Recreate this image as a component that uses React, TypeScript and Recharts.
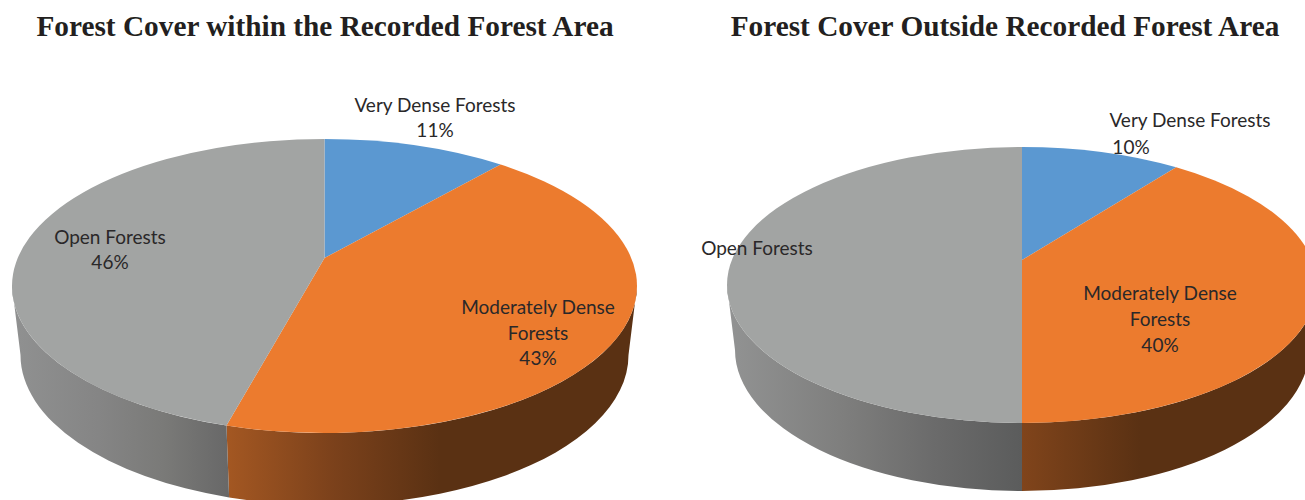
import { PieChart, Pie, Cell } from "recharts";

const categories = ["Very Dense Forests", "Moderately Dense Forests", "Open Forests"];
const withinValues = [11.4, 42.8, 45.8];
const outsideValues = [10.4, 39.6, 50];
const colors = ["#5b98d1", "#ec7b2e", "#a2a4a3"];

const withinTitle = "Forest Cover within the Recorded Forest Area";
const outsideTitle = "Forest Cover Outside Recorded Forest Area";

// where each data label sits, one entry per text line: [text, centre x, centre y]
const withinLabels = [
  [["Very Dense Forests", 435, 104], ["11%", 435, 129]],
  [["Moderately Dense", 538, 306], ["Forests", 538, 332], ["43%", 538, 357]],
  [["Open Forests", 110, 236], ["46%", 110, 261]],
];
const outsideLabels = [
  [["Very Dense Forests", 1190, 119], ["10%", 1131, 146]],
  [["Moderately Dense", 1160, 292], ["Forests", 1160, 318], ["40%", 1160, 344]],
  [["Open Forests", 757, 247]],
];

const rowsFrom = (values: number[]) => categories.map((name, i) => ({ name, value: values[i] }));

const rad = (d: number) => (d * Math.PI) / 180;

// the apex of the tilted pie is not at the ellipse centre, so clock angles get pushed through
// a projective map of the unit circle before they land on the ellipse
const ellipseAngle = (clock: number, a: number) => {
  const x = Math.sin(rad(clock));
  const y = -Math.cos(rad(clock));
  const k = 1 + a * y;
  const px = (x * Math.sqrt(1 - a * a)) / k;
  const py = (y + a) / k;
  const phi = (Math.atan2(px, -py) * 180) / Math.PI;
  return phi + 360 * Math.round((clock - phi) / 360);
};

type Look = { squash: number; apexY: number; floorRx: number; floorRy: number; floorCy: number; wall: string[] };

const makeSlice = (look: Look) => (props: any) => {
  const { cx, cy, outerRadius, startAngle, endAngle, fill, index } = props;
  const rx = outerRadius;
  const ry = outerRadius * look.squash;
  const a = (look.apexY - cy) / ry;
  const phi1 = ellipseAngle(90 - startAngle, a);
  const phi2 = ellipseAngle(90 - endAngle, a);
  const top = (p: number) => `${cx + rx * Math.sin(rad(p))} ${cy - ry * Math.cos(rad(p))}`;
  const floor = (p: number) =>
    `${cx + look.floorRx * Math.sin(rad(p))} ${look.floorCy - look.floorRy * Math.cos(rad(p))}`;
  const face = `M${cx} ${look.apexY} L${top(phi1)} A${rx} ${ry} 0 ${phi2 - phi1 > 180 ? 1 : 0} 1 ${top(phi2)} Z`;
  const w1 = Math.max(phi1, 90);
  const w2 = Math.min(phi2, 270);
  const side =
    w2 > w1
      ? `M${top(w1)} A${rx} ${ry} 0 0 1 ${top(w2)} L${floor(w2)} A${look.floorRx} ${look.floorRy} 0 0 0 ${floor(w1)} Z`
      : null;
  return (
    <g>
      {side && <path d={side} fill={look.wall[index]} />}
      <path d={face} fill={fill} />
    </g>
  );
};

const withinSlice = makeSlice({
  squash: 147 / 312.5,
  apexY: 258,
  floorRx: 304,
  floorRy: 150,
  floorCy: 355,
  wall: ["none", "url(#withinOrange)", "url(#withinGray)"],
});
const outsideSlice = makeSlice({
  squash: 138 / 295,
  apexY: 260,
  floorRx: 287,
  floorRy: 141,
  floorCy: 350,
  wall: ["none", "url(#outsideOrange)", "url(#outsideGray)"],
});

const labelFrom = (spots: any[]) => (props: any) => (
  <g key={props.index}>
    {spots[props.index].map(([text, x, y]: [string, number, number]) => (
      <text
        key={text}
        x={x}
        y={y}
        textAnchor="middle"
        dominantBaseline="central"
        fontFamily="Lato"
        fontSize={19}
        fill="#2a2829"
      >
        {text}
      </text>
    ))}
  </g>
);

export default function App() {
  return (
    <div style={{ position: "absolute", left: 0, top: 0, width: 1305, height: 500, overflow: "hidden", background: "#fff" }}>
      <PieChart width={1305} height={500} margin={{ top: 0, right: 0, bottom: 0, left: 0 }}>
        <defs>
          <linearGradient id="withinGray" gradientUnits="userSpaceOnUse" x1={12} x2={228} y1={0} y2={0}>
            <stop offset="0" stopColor="#909191" />
            <stop offset="0.4" stopColor="#858585" />
            <stop offset="0.7" stopColor="#7a7a78" />
            <stop offset="1" stopColor="#686868" />
          </linearGradient>
          <linearGradient id="withinOrange" gradientUnits="userSpaceOnUse" x1={228} x2={440} y1={0} y2={0}>
            <stop offset="0" stopColor="#a35722" />
            <stop offset="0.5" stopColor="#7b411b" />
            <stop offset="1" stopColor="#5a3113" />
          </linearGradient>
          <linearGradient id="outsideGray" gradientUnits="userSpaceOnUse" x1={727} x2={1022} y1={0} y2={0}>
            <stop offset="0" stopColor="#929393" />
            <stop offset="0.4" stopColor="#7e7e7d" />
            <stop offset="0.7" stopColor="#6b6b6b" />
            <stop offset="1" stopColor="#5b5c5c" />
          </linearGradient>
          <linearGradient id="outsideOrange" gradientUnits="userSpaceOnUse" x1={1022} x2={1140} y1={0} y2={0}>
            <stop offset="0" stopColor="#80441b" />
            <stop offset="1" stopColor="#5a3113" />
          </linearGradient>
        </defs>
        <text x={325} y={36} textAnchor="middle" fontFamily="Liberation Serif" fontWeight="bold" fontSize={29.3} fill="#231f20">
          {withinTitle}
        </text>
        <text x={1005} y={36} textAnchor="middle" fontFamily="Liberation Serif" fontWeight="bold" fontSize={29.3} fill="#231f20">
          {outsideTitle}
        </text>
        <Pie
          data={rowsFrom(withinValues)}
          dataKey="value"
          nameKey="name"
          cx={324.5}
          cy={286}
          innerRadius={0}
          outerRadius={312.5}
          startAngle={90}
          endAngle={-270}
          stroke="none"
          shape={withinSlice}
          label={labelFrom(withinLabels)}
          labelLine={false}
          isAnimationActive={false}
        >
          {colors.map((c) => (
            <Cell key={c} fill={c} />
          ))}
        </Pie>
        <Pie
          data={rowsFrom(outsideValues)}
          dataKey="value"
          nameKey="name"
          cx={1022}
          cy={285}
          innerRadius={0}
          outerRadius={295}
          startAngle={90}
          endAngle={-270}
          stroke="none"
          shape={outsideSlice}
          label={labelFrom(outsideLabels)}
          labelLine={false}
          isAnimationActive={false}
        >
          {colors.map((c) => (
            <Cell key={c} fill={c} />
          ))}
        </Pie>
      </PieChart>
    </div>
  );
}
